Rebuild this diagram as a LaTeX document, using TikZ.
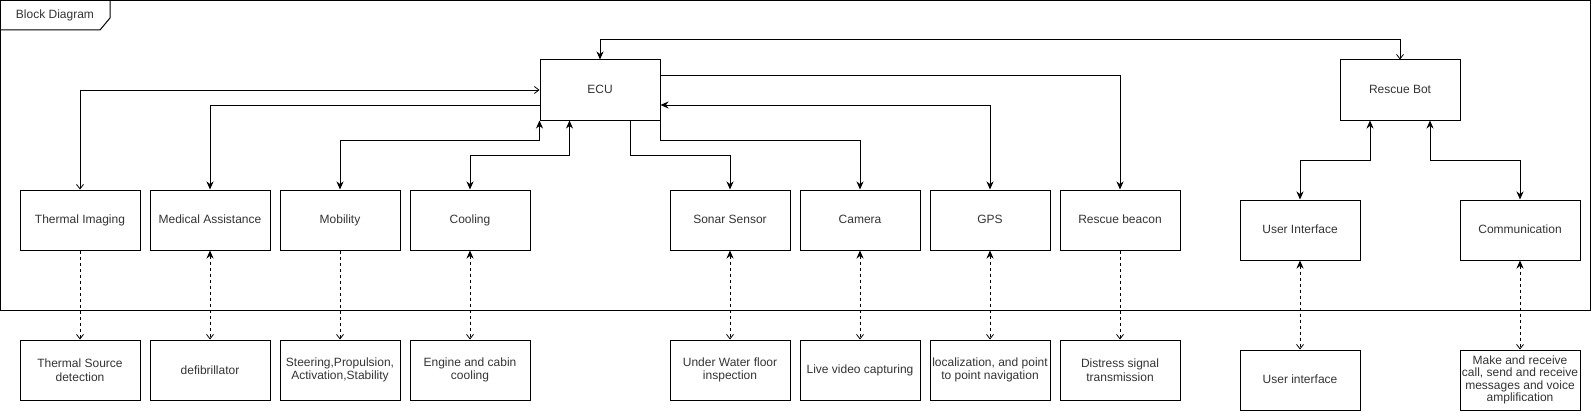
\documentclass[tikz,border=0pt]{standalone}
\usepackage{fontspec}
\setmainfont{Liberation Sans}
\usetikzlibrary{arrows.meta}
\begin{document}
\begin{tikzpicture}[x=1pt, y=-1pt, line width=1pt, line join=miter,
		font=\fontsize{12}{13.5}\selectfont,
		blok/.style={draw, minimum width=120pt, minimum height=60pt, inner sep=0pt,
			align=center, text=black!80},
		een/.style={blok, text height=8.6pt, text depth=2.6pt},
		fil/.tip={Stealth[length=8pt, width=7pt, inset=2.5pt]},
		opn/.tip={Straight Barb[length=4.5pt, width=7pt, line width=0.8pt]},
		lijn/.style={dash pattern=on 3pt off 3pt}]
	\useasboundingbox (0,0) rectangle (1592,412);
	% frame
	\draw (0.5,0.5) rectangle (1590,310);
	\draw (0.5,0.5) -- (110,0.5) -- (110,18) -- (100,30) -- (0.5,30);
	\node[text=black!80] (titel) at (55,15) {Block Diagram};
	% blocks
	\node[een] (ecu) at (600,90) {ECU};
	\node[een] (bot) at (1400,90) {Rescue Bot};
	\foreach \nm/\x/\txt in {thermal/80/Thermal Imaging, medical/210/Medical Assistance,
		mobility/340/Mobility, cooling/470/Cooling, sonar/730/Sonar Sensor,
		camera/860/Camera, gps/990/GPS, beacon/1120/Rescue beacon}{
		\node[een] (\nm) at (\x,220) {\txt};}
	\node[een] (ui) at (1300,230) {User Interface};
	\node[een] (comm) at (1520,230) {Communication};
	\foreach \nm/\x/\txt in {thermal/80/{Thermal Source\\detection}, medical/210/defibrillator,
		mobility/340/{Steering,Propulsion,\\Activation,Stability}, cooling/470/{Engine and cabin\\cooling},
		sonar/730/{Under Water floor\\inspection}, camera/860/Live video capturing,
		gps/990/{localization, and point\\to point navigation}, beacon/1120/{Distress signal\\transmission}}{
		\node[blok] (d\nm) at (\x,370) {\txt};}
	\node[een] (dui) at (1300,380) {User interface};
	\node[blok, font=\fontsize{12}{12.5}\selectfont] (dcomm) at (1520,380)
		{Make and receive\\call, send and receive\\messages and voice\\amplification};
	% ECU links
	\draw[fil-opn] (ecu.north) -- ([yshift=20pt]ecu.north) -| (bot.north);
	\draw[opn-opn] (ecu.west) -| (thermal.north);
	\draw[-fil] ([yshift=-15pt]ecu.west) -| (medical.north);
	\draw[fil-fil] (mobility.north) |- ([yshift=-20pt]ecu.south west) -- (ecu.south west);
	\draw[fil-fil] (cooling.north) |- ([shift={(30pt,-35pt)}]ecu.south west) -- ([xshift=30pt]ecu.south west);
	\draw[-fil] ([xshift=30pt]ecu.south) -- ([shift={(30pt,-35pt)}]ecu.south) -| (sonar.north);
	\draw[-fil] (ecu.south east) -- ([yshift=-20pt]ecu.south east) -| (camera.north);
	\draw[fil-fil] ([yshift=-15pt]ecu.east) -| (gps.north);
	\draw[-fil] ([yshift=15pt]ecu.east) -| (beacon.north);
	% Rescue Bot links
	\draw[fil-fil] (ui.north) |- ([shift={(-30pt,-40pt)}]bot.south) -- ([xshift=-30pt]bot.south);
	\draw[fil-fil] ([xshift=30pt]bot.south) -- ([shift={(30pt,-40pt)}]bot.south) -| (comm.north);
	% functions
	\foreach \nm in {thermal, mobility, beacon}
		\draw[lijn, -opn] (\nm.south) -- (d\nm.north);
	\foreach \nm in {medical, cooling, sonar, camera, gps, ui, comm}
		\draw[lijn, fil-opn] (\nm.south) -- (d\nm.north);
\end{tikzpicture}
\end{document}
